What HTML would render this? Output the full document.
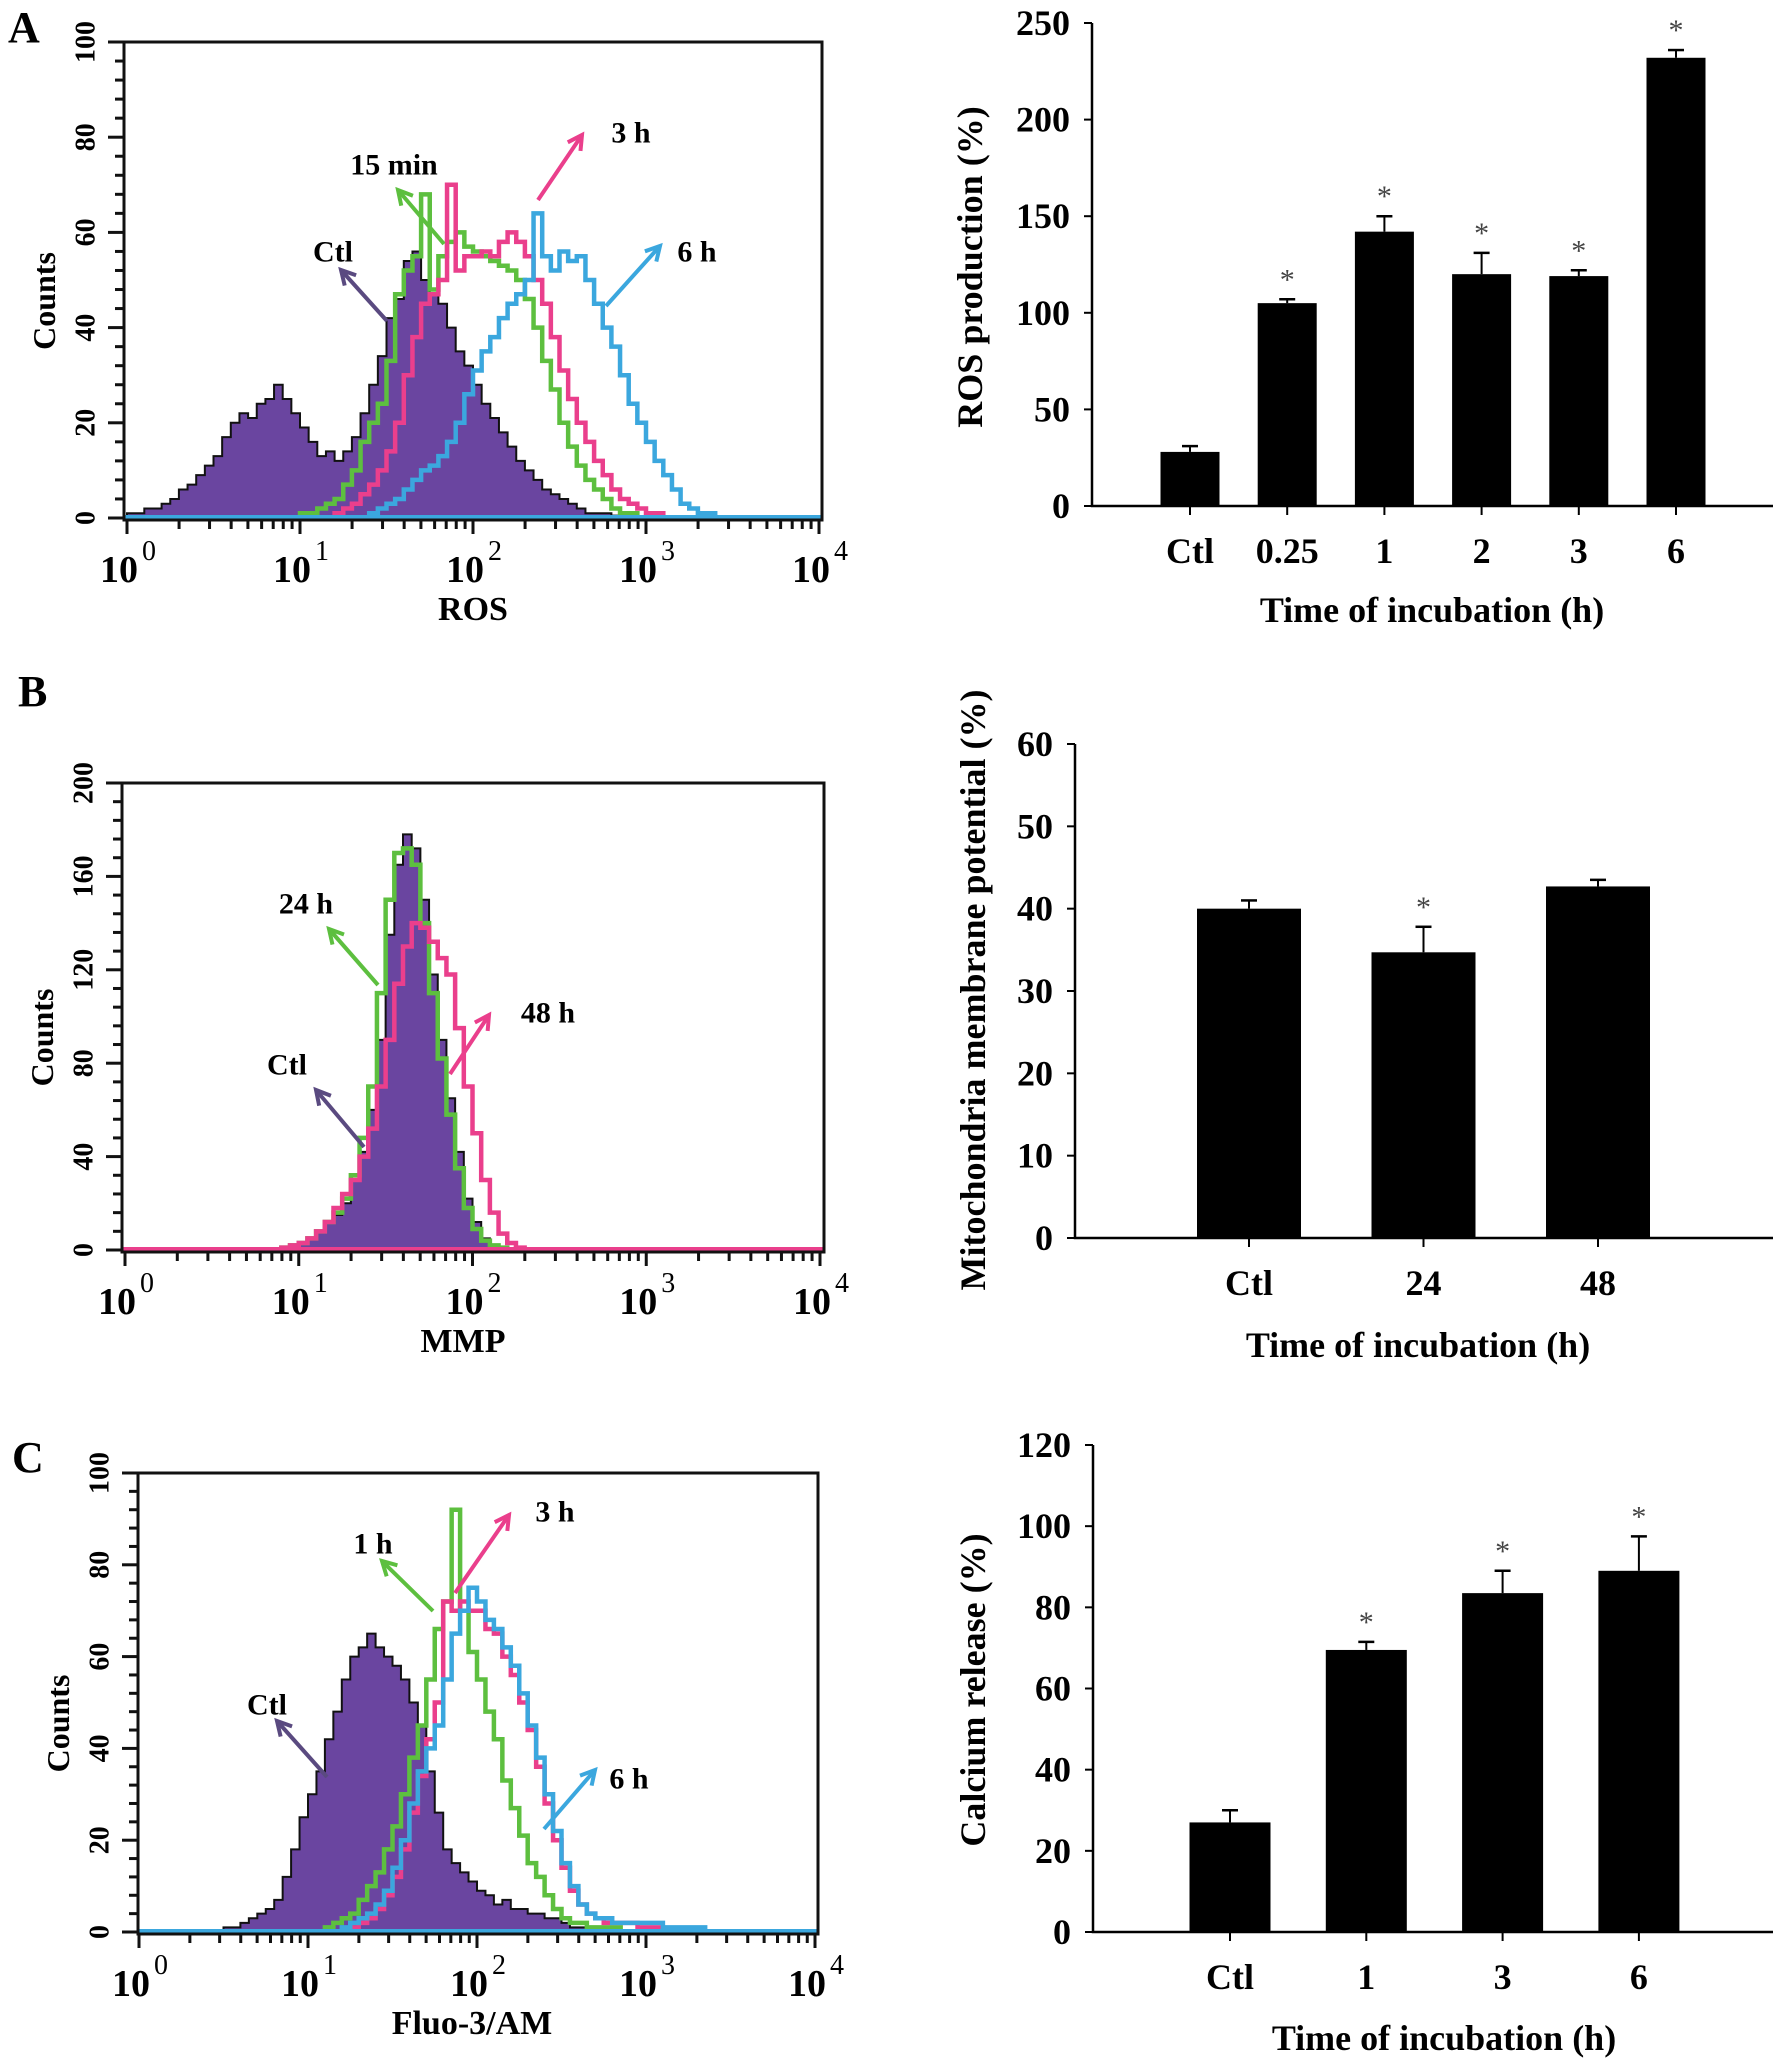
<!DOCTYPE html>
<html><head><meta charset="utf-8"><style>
html,body{margin:0;padding:0;background:#fff;}
svg{display:block;font-family:"Liberation Serif",serif;font-weight:bold;}
</style></head><body>
<svg id="fig" width="1776" height="2064" viewBox="0 0 1776 2064" xmlns="http://www.w3.org/2000/svg">
<text x="8" y="42" font-size="44">A</text>
<text x="18" y="706" font-size="44">B</text>
<text x="12" y="1472" font-size="44">C</text>
</svg>
<script>
// ---------- DATA ----------
const histStep = 0.05;
// Panel A (ROS), counts per log bin
const aCtlStart = 0.0;
const aCtl = [1,1,2,2,3,4,6,7,9,11,13,17,20,22,21,24,25,28,25,22,19,16,13,14,12,14,17,22,28,34,42,46,54,56,50,47,45,40,35,32,28,24,21,18,15,12,10,8,6,5,4,3,2,1,1,1,0.5,0,0,0,0];
const a15Start = 1.0;
const a15 = [1,1,2,3,4,7,10,16,20,24,33,47,52,55,68,48,55,58,60,57,56,55,54,53,52,50,46,40,33,27,20,15,11,8,6,4,2,1,1,0];
const a3Start = 1.2;
const a3 = [1,2,3,5,7,10,14,20,30,38,45,47,50,70,52,55,55,56,55,58,60,58,55,50,45,38,31,25,20,16,12,9,6,4,3,2,1,1,0];
const a6Start = 1.4;
const a6 = [1,2,3,4,6,8,10,11,13,16,20,26,31,35,38,42,45,47,50,64,55,52,56,54,55,50,45,40,36,30,24,20,16,12,9,6,3,2,1,1,0];
// Panel B (MMP)
const bCtlStart = 0.9;
const bCtl = [1,2,3,5,8,12,15,20,30,42,60,90,135,165,178,172,150,118,90,65,42,22,12,5,2,1,0];
const b24Start = 0.9;
const b24 = [1,2,3,5,8,12,16,22,32,48,70,110,150,170,172,165,140,110,82,58,35,18,9,4,2,1,0];
const b48Start = 0.9;
const b48 = [1,2,3,5,8,12,18,24,30,40,52,70,90,114,130,140,138,132,125,118,95,70,50,30,16,7,3,1,0];
// Panel C (Fluo-3/AM)
const cCtlStart = 0.5;
const cCtl = [1,1,2,3,4,5,7,12,18,25,30,35,42,48,55,60,62,65,62,60,58,55,50,45,35,26,18,15,13,11,9,8,6,7,5,5,4,4,3,3,2,1,1,0];
const c1Start = 1.1;
const c1 = [1,2,3,4,7,10,13,18,23,30,38,45,55,66,72,92,70,61,55,48,42,33,27,21,15,12,8,5,3,2,2,1,1,1,1,0];
const c3Start = 1.2;
const c3 = [0,1,2,3,5,8,12,18,26,34,42,50,72,70,72,70,70,66,65,60,56,50,44,36,28,20,14,9,6,4,3,2,2,2,2,1,1,1,0];
const c6Start = 1.2;
const c6 = [1,2,3,4,6,9,14,20,28,35,40,45,55,65,70,75,72,68,66,62,58,52,45,38,30,22,15,10,6,4,3,3,2,2,2,2,2,2,1,1,1,1,1,0];

// Bar charts
const rosCats = ["Ctl","0.25","1","2","3","6"];
const rosVals = [28,105,142,120,119,232];
const rosErr  = [31,107,150,131,122,236];
const rosSig  = [false,true,true,true,true,true];
const rosTicks = [0,50,100,150,200,250];

const mmpCats = ["Ctl","24","48"];
const mmpVals = [40,34.7,42.7];
const mmpErr  = [41,37.8,43.5];
const mmpSig  = [false,true,false];
const mmpTicks = [0,10,20,30,40,50,60];

const caCats = ["Ctl","1","3","6"];
const caVals = [27,69.5,83.5,89];
const caErr  = [30,71.5,89,97.5];
const caSig  = [false,true,true,true];
const caTicks = [0,20,40,60,80,100,120];

// ---------- DRAW ----------
const NS="http://www.w3.org/2000/svg";
const svg=document.getElementById('fig');
function mk(tag,attrs,parent){const e=document.createElementNS(NS,tag);for(const k in attrs)e.setAttribute(k,attrs[k]);(parent||svg).appendChild(e);return e;}
const COL={ctl:"#6a45a0",green:"#5dbf3f",pink:"#ea3f8c",blue:"#3ba7de",arrowCtl:"#5a4a80"};

function histPanel(o){
  const g=mk('g',{});
  
  
  const dec=(o.x4-o.x0)/4;
  const X=l=>o.x0+l*dec;
  const Y=v=>o.y0-v/o.ymax*(o.y0-o.top);
  function stepPath(start,vals){
    let d='M'+X(start)+','+Y(0);
    vals.forEach((v,i)=>{const xa=X(start+i*histStep),xb=X(start+(i+1)*histStep);d+=' L'+xa+','+Y(v)+' L'+xb+','+Y(v);});
    d+=' L'+X(start+vals.length*histStep)+','+Y(0);
    return d;
  }
  o.series.forEach(s=>{
    if(s.fill){
      const p=mk('path',{d:stepPath(s.start,s.vals)+' Z',fill:COL.ctl,stroke:'#111','stroke-width':2},g);
      
      
    } else {
      const p=mk('path',{d:stepPath(s.start,s.vals),fill:'none',stroke:s.color,'stroke-width':4.5,'stroke-linejoin':'miter'},g);
      
      
    }
  });
  const bl=mk('line',{x1:o.left,x2:o.right,y1:Y(0)-1,y2:Y(0)-1,stroke:o.baseColor,'stroke-width':4},g);
  
  
  const box=mk('rect',{x:o.left,y:o.top,width:o.right-o.left,height:o.bottom-o.top,fill:'none',stroke:'#111','stroke-width':3},g);
  
  
  for(let v=0;v<=o.ymax;v+=o.minor){
    const major=(v%o.major===0);
    const t=mk('line',{x1:o.left-(major?16:9),x2:o.left,y1:Y(v),y2:Y(v),stroke:'#111','stroke-width':3},g);
    
    
    if(major){
      const tx=mk('text',{x:o.left-38,y:Y(v),'font-size':28,'text-anchor':'middle','dominant-baseline':'central',transform:'rotate(-90 '+(o.left-38)+' '+Y(v)+')'},g);
      tx.textContent=String(v);
      
      
    }
  }
  for(let d=0;d<4;d++){
    for(let m=1;m<=9;m++){
      const l=d+Math.log10(m);
      const t=mk('line',{x1:X(l),x2:X(l),y1:o.bottom,y2:o.bottom+(m===1?14:9),stroke:'#111','stroke-width':3},g);
      
      
    }
  }
  const te=mk('line',{x1:X(4),x2:X(4),y1:o.bottom,y2:o.bottom+14,stroke:'#111','stroke-width':3},g);
  
  
  for(let d=0;d<=4;d++){
    const tx=mk('text',{x:X(d)-8,y:o.bottom+62,'font-size':38,'text-anchor':'middle'},g);
    tx.textContent='10';
    
    
    const sp=mk('text',{x:X(d)+22,y:o.bottom+40,'font-size':28,'text-anchor':'middle','font-weight':'normal'},g);
    sp.textContent=String(d);
    
    
  }
  const xt=mk('text',{x:o.xtitleX,y:o.bottom+100,'font-size':34,'text-anchor':'middle'},g);
  xt.textContent=o.xtitle;
  
  
  const cy=(o.top+o.bottom)/2+20;
  const yt=mk('text',{x:o.left-80,y:cy,'font-size':32,'text-anchor':'middle','dominant-baseline':'central',transform:'rotate(-90 '+(o.left-80)+' '+cy+')'},g);
  yt.textContent='Counts';
  
  
  o.notes.forEach(n=>{
    const t=mk('text',{x:n.tx,y:n.ty,'font-size':30,'text-anchor':'middle','dominant-baseline':'central'},g);
    t.textContent=n.label;
    
    
    const ang=Math.atan2(n.y2-n.y1,n.x2-n.x1);
    const L=mk('line',{x1:n.x1,y1:n.y1,x2:n.x2,y2:n.y2,stroke:n.color,'stroke-width':4},g);
    
    
    const h=16,w=0.5;
    const p=[[n.x2,n.y2],[n.x2-h*Math.cos(ang-w),n.y2-h*Math.sin(ang-w)],[n.x2-h*Math.cos(ang+w),n.y2-h*Math.sin(ang+w)]];
    const pl=mk('polyline',{points:p[1].join(',')+' '+p[0].join(',')+' '+p[2].join(','),fill:'none',stroke:n.color,'stroke-width':4},g);
    
    
  });
}

histPanel({name:'ros-histogram',left:124,right:822,top:42,bottom:520,y0:518,ymax:100,major:20,minor:4,x0:127,x4:819,
  baseColor:COL.blue,xtitle:'ROS',xtitleX:473,
  series:[{name:'ctl-histogram',fill:true,start:aCtlStart,vals:aCtl},
          {name:'15min-histogram',color:COL.green,start:a15Start,vals:a15},
          {name:'3h-histogram',color:COL.pink,start:a3Start,vals:a3},
          {name:'6h-histogram',color:COL.blue,start:a6Start,vals:a6}],
  notes:[{label:'Ctl',tx:333,ty:252,x1:387,y1:321,x2:341,y2:270,color:COL.arrowCtl},
         {label:'15 min',tx:394,ty:165,x1:444,y1:244,x2:398,y2:190,color:COL.green},
         {label:'3 h',tx:631,ty:133,x1:538,y1:200,x2:582,y2:135,color:COL.pink},
         {label:'6 h',tx:697,ty:252,x1:606,y1:306,x2:660,y2:246,color:COL.blue}]});

histPanel({name:'mmp-histogram',left:122,right:824,top:783,bottom:1252,y0:1250,ymax:200,major:40,minor:8,x0:125,x4:820,
  baseColor:COL.pink,xtitle:'MMP',xtitleX:463,
  series:[{name:'ctl-histogram',fill:true,start:bCtlStart,vals:bCtl},
          {name:'24h-histogram',color:COL.green,start:b24Start,vals:b24},
          {name:'48h-histogram',color:COL.pink,start:b48Start,vals:b48}],
  notes:[{label:'24 h',tx:306,ty:904,x1:378,y1:985,x2:329,y2:929,color:COL.green},
         {label:'48 h',tx:548,ty:1013,x1:450,y1:1074,x2:489,y2:1015,color:COL.pink},
         {label:'Ctl',tx:287,ty:1065,x1:364,y1:1147,x2:316,y2:1090,color:COL.arrowCtl}]});

histPanel({name:'fluo3-histogram',left:138,right:818,top:1473,bottom:1934,y0:1932,ymax:100,major:20,minor:4,x0:139,x4:815,
  baseColor:COL.blue,xtitle:'Fluo-3/AM',xtitleX:472,
  series:[{name:'ctl-histogram',fill:true,start:cCtlStart,vals:cCtl},
          {name:'1h-histogram',color:COL.green,start:c1Start,vals:c1},
          {name:'3h-histogram',color:COL.pink,start:c3Start,vals:c3},
          {name:'6h-histogram',color:COL.blue,start:c6Start,vals:c6}],
  notes:[{label:'1 h',tx:373,ty:1544,x1:433,y1:1611,x2:382,y2:1561,color:COL.green},
         {label:'3 h',tx:555,ty:1512,x1:455,y1:1593,x2:509,y2:1515,color:COL.pink},
         {label:'6 h',tx:629,ty:1779,x1:544,y1:1829,x2:595,y2:1770,color:COL.blue},
         {label:'Ctl',tx:267,ty:1705,x1:327,y1:1777,x2:277,y2:1721,color:COL.arrowCtl}]});

function barPanel(o){
  const g=mk('g',{});
  
  
  const ymax=o.ticks[o.ticks.length-1];
  const Y=v=>o.y0-v/ymax*(o.y0-o.ytop);
  const X=i=>o.c0+i*o.dx;
  o.vals.forEach((v,i)=>{
    const r=mk('rect',{x:X(i)-o.bw/2,y:Y(v),width:o.bw,height:o.y0-Y(v),fill:'#000'},g);
    
    
    const e=mk('line',{x1:X(i),x2:X(i),y1:Y(v),y2:Y(o.err[i]),stroke:'#000','stroke-width':2},g);
    
    
    const c=mk('line',{x1:X(i)-8,x2:X(i)+8,y1:Y(o.err[i]),y2:Y(o.err[i]),stroke:'#000','stroke-width':2.5},g);
    
    
    if(o.sig[i]){
      const s=mk('text',{x:X(i),y:Y(o.err[i])-10,'font-size':30,'text-anchor':'middle',fill:'#444','font-weight':'normal'},g);
      s.textContent='*';
      
      
    }
    const tk=mk('line',{x1:X(i),x2:X(i),y1:o.y0,y2:o.y0+9,stroke:'#000','stroke-width':2},g);
    
    
    const lb=mk('text',{x:X(i),y:o.y0+57,'font-size':36,'text-anchor':'middle'},g);
    lb.textContent=o.cats[i];
    
    
  });
  const ax=mk('path',{d:'M'+o.ax+','+o.ytop+' L'+o.ax+','+o.y0+' L'+o.xend+','+o.y0,fill:'none',stroke:'#000','stroke-width':2.5},g);
  
  
  o.ticks.forEach(t=>{
    const l=mk('line',{x1:o.ax-8,x2:o.ax,y1:Y(t),y2:Y(t),stroke:'#000','stroke-width':2},g);
    
    
    const tx=mk('text',{x:o.ax-22,y:Y(t)+12,'font-size':36,'text-anchor':'end'},g);
    tx.textContent=String(t);
    
    
  });
  const xt=mk('text',{x:o.xtX,y:o.xtY,'font-size':36,'text-anchor':'middle'},g);
  xt.textContent='Time of incubation (h)';
  
  
  const yt=mk('text',{x:o.ytX,y:o.ytY,'font-size':36,'text-anchor':'middle','dominant-baseline':'central',transform:'rotate(-90 '+o.ytX+' '+o.ytY+')'},g);
  yt.textContent=o.ytitle;
  
  
}

barPanel({name:'ros-bar-chart',cats:rosCats,vals:rosVals,err:rosErr,sig:rosSig,ticks:rosTicks,
  ax:1092,y0:506,ytop:23,xend:1773,c0:1190,dx:97.2,bw:59,xtX:1432,xtY:622,ytX:970,ytY:267,ytitle:'ROS production (%)'});
barPanel({name:'mmp-bar-chart',cats:mmpCats,vals:mmpVals,err:mmpErr,sig:mmpSig,ticks:mmpTicks,
  ax:1075,y0:1238,ytop:744,xend:1773,c0:1249,dx:174.5,bw:104,xtX:1418,xtY:1357,ytX:973,ytY:990,ytitle:'Mitochondria membrane potential (%)'});
barPanel({name:'calcium-bar-chart',cats:caCats,vals:caVals,err:caErr,sig:caSig,ticks:caTicks,
  ax:1093,y0:1932,ytop:1445,xend:1773,c0:1230,dx:136.3,bw:81,xtX:1444,xtY:2050,ytX:973,ytY:1690,ytitle:'Calcium release (%)'});
</script>
</body></html>
